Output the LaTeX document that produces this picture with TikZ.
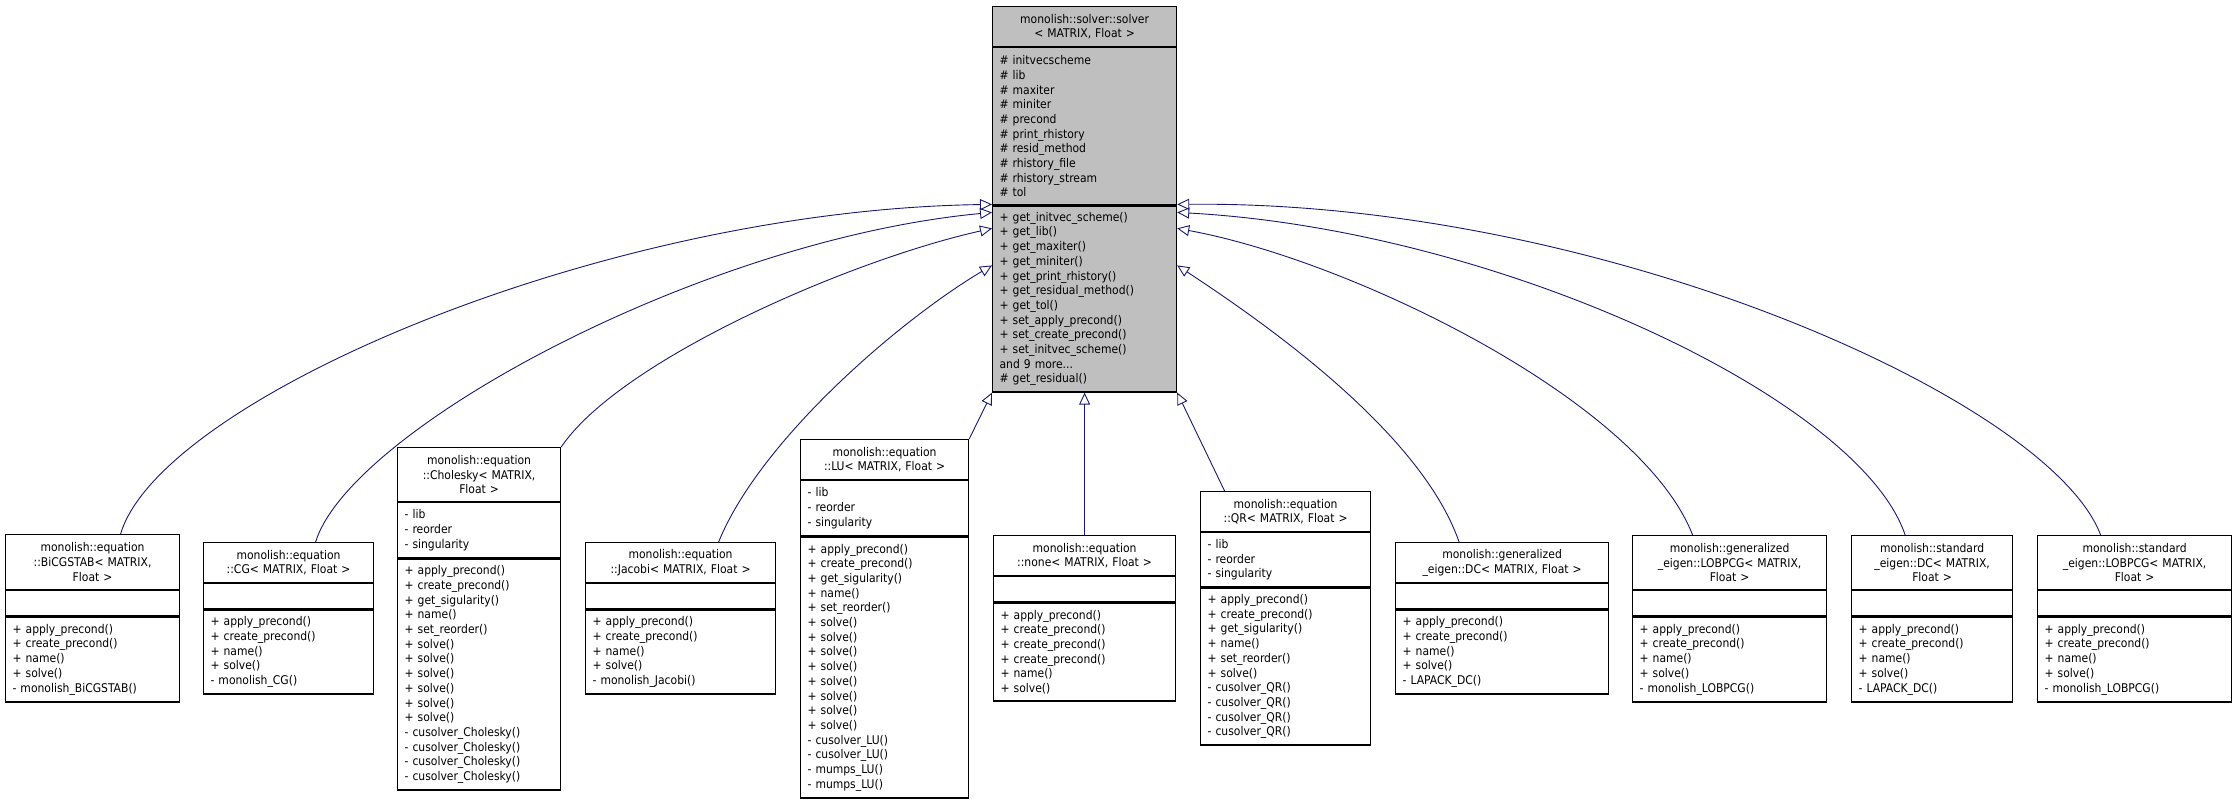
\documentclass[tikz,border=0pt]{standalone}
\usepackage{fontspec}
\setmainfont{DejaVu Sans Condensed}
\usepackage{tikz}
\usetikzlibrary{arrows.meta}

\begin{document}
\begin{tikzpicture}[
    x=1pt, y=-1pt,
    every node/.style={font=\fontsize{12}{14.7}\selectfont, inner xsep=7pt, inner ysep=2pt},
    w/.code={\pgfmathsetmacro\tw{#1-14}\tikzset{minimum width=#1pt, text width=\tw pt}},
    hd/.style={draw, line width=1.2pt, anchor=north west, align=center},
    cmp/.style={draw, line width=1.2pt, anchor=north west, align=left},
    base/.style={fill={rgb,255:red,191;green,191;blue,191}},
    inh/.style={draw={rgb,255:red,25;green,25;blue,112}, line width=0.9pt,
        -{Triangle[open, length=12pt, width=11pt]}},
        ]
    \useasboundingbox (0,0) rectangle (2237,800);

    % base class
    \node[hd, base, w=184, minimum height=40] (root) at (992,6) {monolish::solver::solver\\\textless{} MATRIX, Float \textgreater};
    \node[cmp, base, w=184, minimum height=157] (root-a) at (root.south west) {\# initvecscheme\\\# lib\\\# maxiter\\\# miniter\\\# precond\\\# print\_rhistory\\\# resid\_method\\\# rhistory\_file\\\# rhistory\_stream\\\# tol};
    \node[cmp, base, w=184, minimum height=186] (root-o) at (root-a.south west) {+ get\_initvec\_scheme()\\+ get\_lib()\\+ get\_maxiter()\\+ get\_miniter()\\+ get\_print\_rhistory()\\+ get\_residual\_method()\\+ get\_tol()\\+ set\_apply\_precond()\\+ set\_create\_precond()\\+ set\_initvec\_scheme()\\and 9 more...\\\# get\_residual()};

    % BiCGSTAB
    \node[hd, w=174, minimum height=55] (bicg) at (5,534) {monolish::equation\\::BiCGSTAB\textless{} MATRIX,\\Float \textgreater};
    \node[cmp, w=174, minimum height=25] (bicg-a) at (bicg.south west) {};
    \node[cmp, w=174, minimum height=85] (bicg-o) at (bicg-a.south west) {+ apply\_precond()\\+ create\_precond()\\+ name()\\+ solve()\\- monolish\_BiCGSTAB()};

    % CG
    \node[hd, w=170, minimum height=40] (cg) at (203,542) {monolish::equation\\::CG\textless{} MATRIX, Float \textgreater};
    \node[cmp, w=170, minimum height=25] (cg-a) at (cg.south west) {};
    \node[cmp, w=170, minimum height=84] (cg-o) at (cg-a.south west) {+ apply\_precond()\\+ create\_precond()\\+ name()\\+ solve()\\- monolish\_CG()};

    % Cholesky
    \node[hd, w=163, minimum height=54] (chol) at (397,447) {monolish::equation\\::Cholesky\textless{} MATRIX,\\Float \textgreater};
    \node[cmp, w=163, minimum height=55] (chol-a) at (chol.south west) {- lib\\- reorder\\- singularity};
    \node[cmp, w=163, minimum height=231] (chol-o) at (chol-a.south west) {+ apply\_precond()\\+ create\_precond()\\+ get\_sigularity()\\+ name()\\+ set\_reorder()\\+ solve()\\+ solve()\\+ solve()\\+ solve()\\+ solve()\\+ solve()\\- cusolver\_Cholesky()\\- cusolver\_Cholesky()\\- cusolver\_Cholesky()\\- cusolver\_Cholesky()};

    % Jacobi
    \node[hd, w=190, minimum height=40] (jac) at (585,542) {monolish::equation\\::Jacobi\textless{} MATRIX, Float \textgreater};
    \node[cmp, w=190, minimum height=25] (jac-a) at (jac.south west) {};
    \node[cmp, w=190, minimum height=84] (jac-o) at (jac-a.south west) {+ apply\_precond()\\+ create\_precond()\\+ name()\\+ solve()\\- monolish\_Jacobi()};

    % LU
    \node[hd, w=168, minimum height=40] (lu) at (800,439) {monolish::equation\\::LU\textless{} MATRIX, Float \textgreater};
    \node[cmp, w=168, minimum height=55] (lu-a) at (lu.south west) {- lib\\- reorder\\- singularity};
    \node[cmp, w=168, minimum height=261] (lu-o) at (lu-a.south west) {+ apply\_precond()\\+ create\_precond()\\+ get\_sigularity()\\+ name()\\+ set\_reorder()\\+ solve()\\+ solve()\\+ solve()\\+ solve()\\+ solve()\\+ solve()\\+ solve()\\+ solve()\\- cusolver\_LU()\\- cusolver\_LU()\\- mumps\_LU()\\- mumps\_LU()};

    % none
    \node[hd, w=182, minimum height=40] (none) at (993,535) {monolish::equation\\::none\textless{} MATRIX, Float \textgreater};
    \node[cmp, w=182, minimum height=25] (none-a) at (none.south west) {};
    \node[cmp, w=182, minimum height=98] (none-o) at (none-a.south west) {+ apply\_precond()\\+ create\_precond()\\+ create\_precond()\\+ create\_precond()\\+ name()\\+ solve()};

    % QR
    \node[hd, w=170, minimum height=40] (qr) at (1200,491) {monolish::equation\\::QR\textless{} MATRIX, Float \textgreater};
    \node[cmp, w=170, minimum height=54] (qr-a) at (qr.south west) {- lib\\- reorder\\- singularity};
    \node[cmp, w=170, minimum height=157] (qr-o) at (qr-a.south west) {+ apply\_precond()\\+ create\_precond()\\+ get\_sigularity()\\+ name()\\+ set\_reorder()\\+ solve()\\- cusolver\_QR()\\- cusolver\_QR()\\- cusolver\_QR()\\- cusolver\_QR()};

    % generalized DC
    \node[hd, w=213, minimum height=40] (gdc) at (1395,542) {monolish::generalized\\\_eigen::DC\textless{} MATRIX, Float \textgreater};
    \node[cmp, w=213, minimum height=25] (gdc-a) at (gdc.south west) {};
    \node[cmp, w=213, minimum height=84] (gdc-o) at (gdc-a.south west) {+ apply\_precond()\\+ create\_precond()\\+ name()\\+ solve()\\- LAPACK\_DC()};

    % generalized LOBPCG
    \node[hd, w=194, minimum height=54] (glob) at (1632,535) {monolish::generalized\\\_eigen::LOBPCG\textless{} MATRIX,\\Float \textgreater};
    \node[cmp, w=194, minimum height=25] (glob-a) at (glob.south west) {};
    \node[cmp, w=194, minimum height=85] (glob-o) at (glob-a.south west) {+ apply\_precond()\\+ create\_precond()\\+ name()\\+ solve()\\- monolish\_LOBPCG()};

    % standard DC
    \node[hd, w=161, minimum height=54] (sdc) at (1851,535) {monolish::standard\\\_eigen::DC\textless{} MATRIX,\\Float \textgreater};
    \node[cmp, w=161, minimum height=25] (sdc-a) at (sdc.south west) {};
    \node[cmp, w=161, minimum height=85] (sdc-o) at (sdc-a.south west) {+ apply\_precond()\\+ create\_precond()\\+ name()\\+ solve()\\- LAPACK\_DC()};

    % standard LOBPCG
    \node[hd, w=194, minimum height=54] (slob) at (2037,535) {monolish::standard\\\_eigen::LOBPCG\textless{} MATRIX,\\Float \textgreater};
    \node[cmp, w=194, minimum height=25] (slob-a) at (slob.south west) {};
    \node[cmp, w=194, minimum height=85] (slob-o) at (slob-a.south west) {+ apply\_precond()\\+ create\_precond()\\+ name()\\+ solve()\\- monolish\_LOBPCG()};

    % inheritance
    \draw[inh] ([xshift=28pt]bicg.north) .. controls (160,400) and (600,210) .. ([yshift=1pt]root-o.north west);
    \draw[inh] ([xshift=27pt]cg.north) .. controls (350,430) and (700,240) .. ([yshift=-7pt]root-o.north west);
    \draw[inh] (chol.north east) .. controls (620,360) and (850,260) .. ([yshift=-23pt]root-o.north west);
    \draw[inh] ([xshift=38pt]jac.north) .. controls (760,440) and (900,320) .. ([yshift=-60pt]root-o.north west);
    \draw[inh] (lu.north east) -- (root-o.south west);
    \draw[inh] (none.north) -- (root-o.south);
    \draw[inh] ([xshift=-61pt]qr.north) -- (root-o.south east);
    \draw[inh] ([xshift=-43pt]gdc.north) .. controls (1420,430) and (1260,320) .. ([yshift=-60pt]root-o.north east);
    \draw[inh] ([xshift=-37pt]glob.north) .. controls (1640,400) and (1350,260) .. ([yshift=-23pt]root-o.north east);
    \draw[inh] ([xshift=-27pt]sdc.north) .. controls (1860,400) and (1500,230) .. ([yshift=-7pt]root-o.north east);
    \draw[inh] ([xshift=-34pt]slob.north) .. controls (2050,400) and (1600,200) .. ([yshift=1pt]root-o.north east);
\end{tikzpicture}
\end{document}
